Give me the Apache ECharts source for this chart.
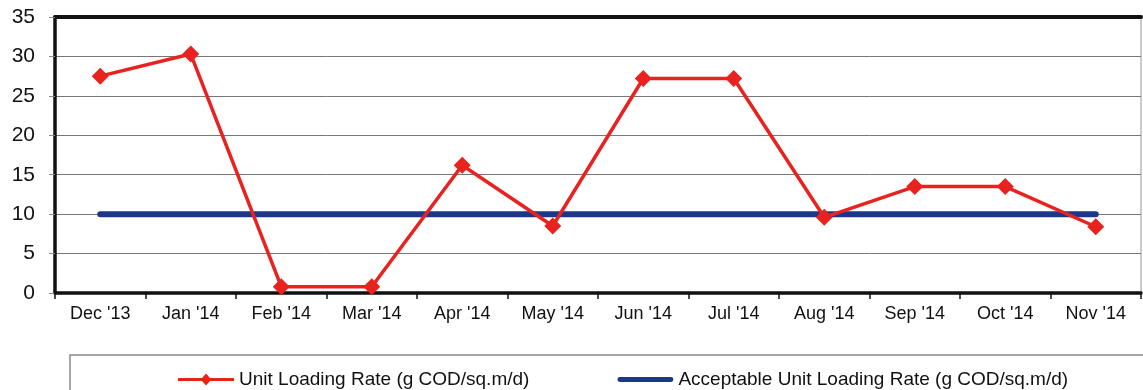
<!DOCTYPE html>
<html>
<head>
<meta charset="utf-8">
<script src="https://cdn.jsdelivr.net/npm/echarts@6/dist/echarts.min.js"></script>
<style>
  html, body { margin: 0; padding: 0; background: #fff; }
  #chart { width: 1143px; height: 390px; }
</style>
</head>
<body>
<div id="chart"></div>
<script>
const months = ["Dec '13", "Jan '14", "Feb '14", "Mar '14", "Apr '14", "May '14",
  "Jun '14", "Jul '14", "Aug '14", "Sep '14", "Oct '14", "Nov '14"];
const unitLoading = [27.5, 30.3, 0.8, 0.8, 16.2, 8.5, 27.2, 27.2, 9.6, 13.5, 13.5, 8.4];
const acceptable = [10, 10, 10, 10, 10, 10, 10, 10, 10, 10, 10, 10];
const yTicks = [0, 5, 10, 15, 20, 25, 30, 35];

const font = "Liberation Sans, Arial, sans-serif";
var myChart = echarts.init(document.getElementById("chart"));

var option = {
  backgroundColor: "#fff",
  animation: false,
  grid: {
    left: 55, right: 2, top: 17, bottom: 97,
    show: true, borderColor: "#999", borderWidth: 1
  },
  legend: {
    left: 173, top: 365,
    itemWidth: 56, itemHeight: 12, itemGap: 88,
    textStyle: { fontFamily: font, fontSize: 19, color: "#111" },
    data: [
      { name: "Unit Loading Rate (g COD/sq.m/d)", icon: "path://M0,4.5 L24,4.5 L28,0 L32,4.5 L56,4.5 L56,7.5 L32,7.5 L28,12 L24,7.5 L0,7.5 Z" },
      { name: "Acceptable Unit Loading Rate (g COD/sq.m/d)", icon: "path://M2,3.5 L54,3.5 A2.5,2.5 0 0 1 54,8.5 L2,8.5 A2.5,2.5 0 0 1 2,3.5 Z M0,0 L0,0.01 M56,12 L56,11.99" }
    ]
  },
  graphic: [{
    type: "rect",
    shape: { x: 70, y: 355, width: 1100, height: 60 },
    style: { fill: "none", stroke: "#888", lineWidth: 1.5 },
    silent: true, z: -1
  }],
  xAxis: [{
    type: "category",
    data: months,
    boundaryGap: true,
    axisLine: { lineStyle: { color: "#111", width: 3.5 } },
    axisTick: { show: true, alignWithLabel: false, length: 6, lineStyle: { color: "#111", width: 1.5 } },
    axisLabel: { fontFamily: font, fontSize: 18, color: "#111", margin: 12 }
  }, {
    type: "category",
    data: months,
    position: "top",
    axisLine: { lineStyle: { color: "#111", width: 4 } },
    axisTick: { show: false },
    axisLabel: { show: false }
  }],
  yAxis: {
    type: "value",
    min: yTicks[0], max: yTicks[yTicks.length - 1], interval: 5,
    axisLine: { show: true, lineStyle: { color: "#111", width: 3.5 } },
    axisTick: { show: true, length: 6, lineStyle: { color: "#888" } },
    axisLabel: { fontFamily: font, fontSize: 21, color: "#111", margin: 20 },
    splitLine: { lineStyle: { color: "#777", width: 1 } }
  },
  series: [
    {
      name: "Acceptable Unit Loading Rate (g COD/sq.m/d)",
      type: "line",
      data: acceptable,
      symbol: "none",
      lineStyle: { color: "#1c378a", width: 6, cap: "round" },
      itemStyle: { color: "#1c378a" },
      z: 2
    },
    {
      name: "Unit Loading Rate (g COD/sq.m/d)",
      type: "line",
      data: unitLoading,
      symbol: "diamond",
      symbolSize: 17,
      lineStyle: { color: "#e8231f", width: 3.5 },
      itemStyle: { color: "#e8231f" },
      z: 3
    }
  ]
};

option && myChart.setOption(option);
</script>
</body>
</html>
